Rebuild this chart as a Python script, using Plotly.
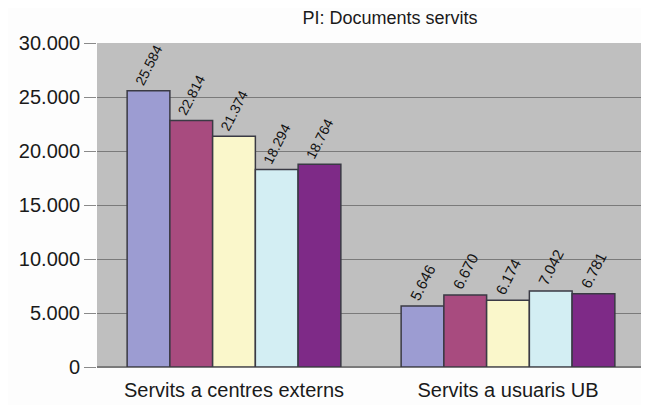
import plotly.graph_objects as go

categories = ["Servits a centres externs", "Servits a usuaris UB"]
series_names = ["Sèrie 1", "Sèrie 2", "Sèrie 3", "Sèrie 4", "Sèrie 5"]
series_values = [
    [25584, 5646],
    [22814, 6670],
    [21374, 6174],
    [18294, 7042],
    [18764, 6781],
]
colors = ["#9C9CD2", "#A84B7F", "#FAF7CB", "#D3EEF3", "#7E2A87"]
y_ticks = [0, 5000, 10000, 15000, 20000, 25000, 30000]

FONT = "Arial, Liberation Sans, sans-serif"

fig = go.Figure()
for name, vals, col in zip(series_names, series_values, colors):
    fig.add_trace(go.Bar(
        x=categories, y=vals, name=name,
        marker=dict(color=col, line=dict(color="#3a3a44", width=1.5)),
        texttemplate="%{y:,}", textposition="outside", textangle=-63,
        textfont=dict(family=FONT, size=15, color="#111"),
        cliponaxis=False,
    ))

fig.update_layout(
    width=641, height=397,
    separators=",.",
    barmode="group", bargap=0.22, bargroupgap=0,
    showlegend=False,
    paper_bgcolor="#FDFDFD", plot_bgcolor="#BFBFBF",
    margin=dict(l=89, r=4, t=35, b=36),
    title=dict(text="PI: Documents servits", x=0.596, xanchor="center", y=0.975, yanchor="middle",
               font=dict(family=FONT, size=18, color="#1a1a1a")),
    font=dict(family=FONT, color="#1a1a1a"),
)
fig.update_yaxes(range=[0, 30000], tickvals=y_ticks, tickformat=",d",
                 tickfont=dict(size=20), gridcolor="#7a7a7a", gridwidth=1.2,
                 ticks="outside", ticklen=12, tickcolor="#8a8a8a", showline=False,
                 zeroline=True, zerolinecolor="#7a7a7a", zerolinewidth=1.5)
fig.update_xaxes(tickfont=dict(size=20), ticks="", showline=False, ticklabelstandoff=9)

fig.write_html("out.html")
